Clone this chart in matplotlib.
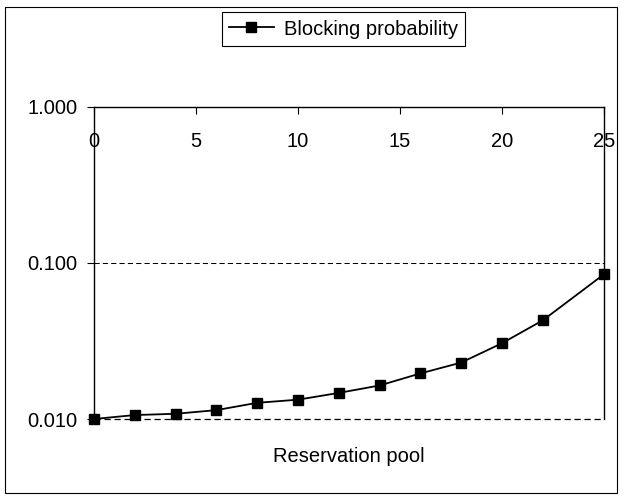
import matplotlib
matplotlib.use("Agg")
import matplotlib.pyplot as plt
from matplotlib.patches import Rectangle
from matplotlib.ticker import FixedLocator, FixedFormatter, NullLocator

# data
pool = [0, 2, 4, 6, 8, 10, 12, 14, 16, 18, 20, 22, 25]
blocking = [0.0100, 0.0106, 0.0108, 0.0114, 0.0127, 0.0133, 0.0147,
            0.0164, 0.0196, 0.0230, 0.0306, 0.0429, 0.0847]
x_ticks = [0, 5, 10, 15, 20, 25]
y_ticks = [0.01, 0.1, 1.0]
y_labels = ["0.010", "0.100", "1.000"]

plt.rcParams['font.family'] = ['Liberation Sans', 'DejaVu Sans']
fs = 14.5

fig = plt.figure(figsize=(6.29, 4.98), dpi=100)
ax = fig.add_axes([94 / 629, 1 - 419 / 498, 510 / 629, 312 / 498])

# outer chart border
fig.patches.append(Rectangle((5 / 629, 1 - 493 / 498), 612 / 629, 486 / 498,
                             transform=fig.transFigure, fill=False,
                             edgecolor='black', linewidth=0.8))

ax.plot(pool, blocking, color='black', linewidth=1.3, marker='s',
        markersize=6.5, label='Blocking probability', clip_on=False, zorder=5)

ax.set_yscale('log')
ax.set_xlim(0, 25)
ax.set_ylim(0.01, 1.0)

ax.yaxis.set_major_locator(FixedLocator(y_ticks))
ax.yaxis.set_major_formatter(FixedFormatter(y_labels))
ax.yaxis.set_minor_locator(NullLocator())
ax.set_xticks(x_ticks)
ax.xaxis.set_minor_locator(NullLocator())

# dashed gridlines like Excel (bottom one drawn by hand so it isn't clipped)
ax.grid(axis='y', which='major', color='black', linestyle=(0, (5, 3)), linewidth=0.75)
ax.axhline(y_ticks[0], color='black', linestyle=(0, (5, 3)), linewidth=0.9,
           clip_on=False, zorder=1)

# x axis drawn along the top, labels hanging below it
ax.xaxis.set_ticks_position('top')
ax.tick_params(axis='x', which='major', top=True, bottom=False, labeltop=True,
               labelbottom=False, direction='in', length=5, width=0.8,
               pad=-32, labelsize=fs)
ax.tick_params(axis='y', which='major', direction='out', length=5, width=0.8,
               pad=7, labelsize=fs)

for side in ['left', 'top', 'right']:
    ax.spines[side].set_linewidth(1.0)
ax.spines['bottom'].set_visible(False)

ax.set_xlabel('Reservation pool', fontsize=fs, labelpad=20)

fig.legend(loc='center', bbox_to_anchor=(343.5 / 629, 1 - 29 / 498),
           fontsize=fs, frameon=True, fancybox=False, edgecolor='black',
           framealpha=1, handlelength=2.2, borderpad=0.35, handletextpad=0.5)
fig.legends[0].get_frame().set_linewidth(0.8)

fig.savefig('out.png', dpi=100)
